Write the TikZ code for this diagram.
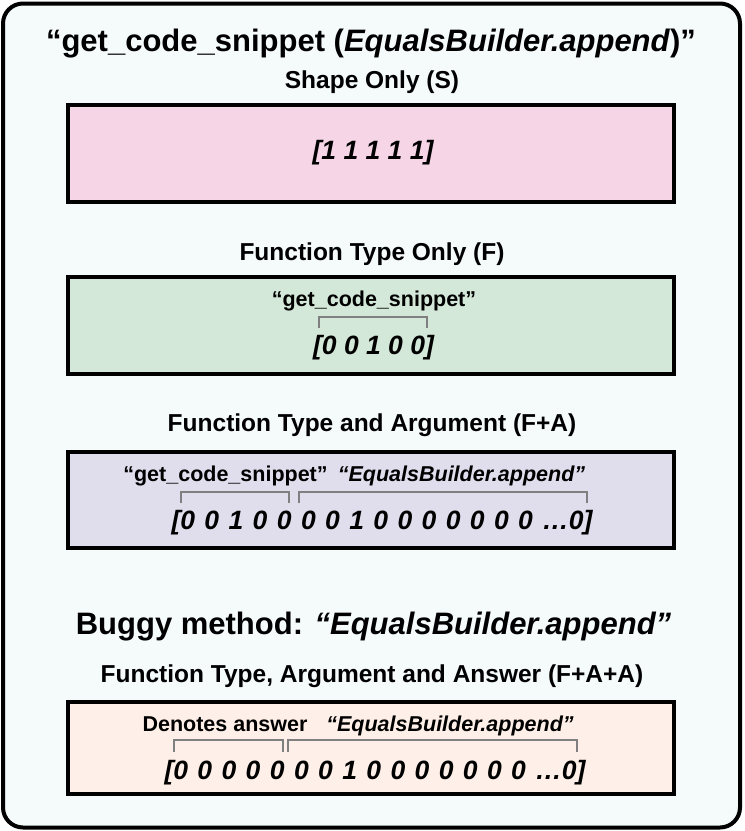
\documentclass[tikz,border=0pt]{standalone}
\usepackage{fontspec}
\setmainfont{Liberation Sans}
\definecolor{panelbg}{HTML}{F5FAFB}
\definecolor{shapebg}{HTML}{F5D5E6}
\definecolor{funcbg}{HTML}{D4E8D9}
\definecolor{argbg}{HTML}{E0DEED}
\definecolor{ansbg}{HTML}{FEF0E8}
\newcommand{\widegaps}{\spaceskip=9.4pt plus 0pt minus 0pt\relax}
\tikzset{
    vecbox/.style={draw, rectangle, line width=4.5pt, minimum width=606pt, inner sep=0pt},
    bigtitle/.style={font=\fontsize{31}{36}\selectfont\bfseries, anchor=base, inner sep=0pt},
    heading/.style={font=\fontsize{24.5}{28}\selectfont\bfseries, anchor=base, inner sep=0pt},
    tag/.style={font=\fontsize{21.5}{25}\selectfont\bfseries, anchor=base, inner sep=0pt},
    vector/.style={font=\fontsize{26.5}{30}\selectfont\bfseries\itshape, anchor=base, inner sep=0pt},
    spanline/.style={draw=black!50, line width=1.5pt},
}
\begin{document}
\begin{tikzpicture}[x=1pt, y=-1pt]
    \useasboundingbox (0,0) rectangle (745,831);

    % Outer panel
    \node[draw, rectangle, rounded corners=20pt, line width=4pt, fill=panelbg,
          minimum width=737pt, minimum height=824pt] (panel) at (371.5,415.5) {};

    % Title
    \node[bigtitle] (title) at (371,51) {“get\_code\_snippet (\textit{EqualsBuilder.append})”};

    % Shape Only
    \node[heading] (shapehead) at (372,88) {Shape Only (S)};
    \node[vecbox, fill=shapebg, minimum height=97pt] (shapebox) at (371,153.5) {};
    \node[vector] (shapevec) at (373,159) {[1 1 1 1 1]};

    % Function Type Only
    \node[heading] (funchead) at (372,260) {Function Type Only (F)};
    \node[vecbox, fill=funcbg, minimum height=97pt] (funcbox) at (371,325.5) {};
    \node[tag] (functag) at (374,306) {“get\_code\_snippet”};
    \node[vector] (funcvec) at (373.5,354) {[0 0 1 0 0]};
    \draw[spanline] (319,328) -- (319,317) -- (427,317) -- (427,328);

    % Function Type and Argument
    \node[heading] (arghead) at (372,431) {Function Type and Argument (F+A)};
    \node[vecbox, fill=argbg, minimum height=96pt] (argbox) at (371,500) {};
    \node[tag] (argtagf) at (225.5,481) {“get\_code\_snippet”};
    \node[tag, font=\fontsize{21.5}{25}\selectfont\bfseries\itshape] (argtaga) at (461.5,481) {“EqualsBuilder.append”};
    \node[vector] (argvec) at (382,529) {\widegaps{}[0 0 1 0 0 0 0 1 0 0 0 0 0 0 0 …0]};
    \draw[spanline] (181,503) -- (181,492) -- (289,492) -- (289,503);
    \draw[spanline] (299,503) -- (299,492) -- (587,492) -- (587,503);

    % Buggy method
    \node[bigtitle] (buggy) at (373.5,634) {Buggy method: \textit{“EqualsBuilder.append”}};

    % Function Type, Argument and Answer
    \node[heading] (anshead) at (372,682) {Function Type, Argument and Answer (F+A+A)};
    \node[vecbox, fill=ansbg, minimum height=92pt] (ansbox) at (371,748) {};
    \node[tag] (anstagd) at (225,731) {Denotes answer};
    \node[tag, font=\fontsize{21.5}{25}\selectfont\bfseries\itshape] (anstaga) at (450,731) {“EqualsBuilder.append”};
    \node[vector] (ansvec) at (375,779) {\widegaps{}[0 0 0 0 0 0 0 1 0 0 0 0 0 0 0 …0]};
    \draw[spanline] (174,752) -- (174,740) -- (283,740) -- (283,752);
    \draw[spanline] (288,752) -- (288,740) -- (577,740) -- (577,752);

\end{tikzpicture}
\end{document}
